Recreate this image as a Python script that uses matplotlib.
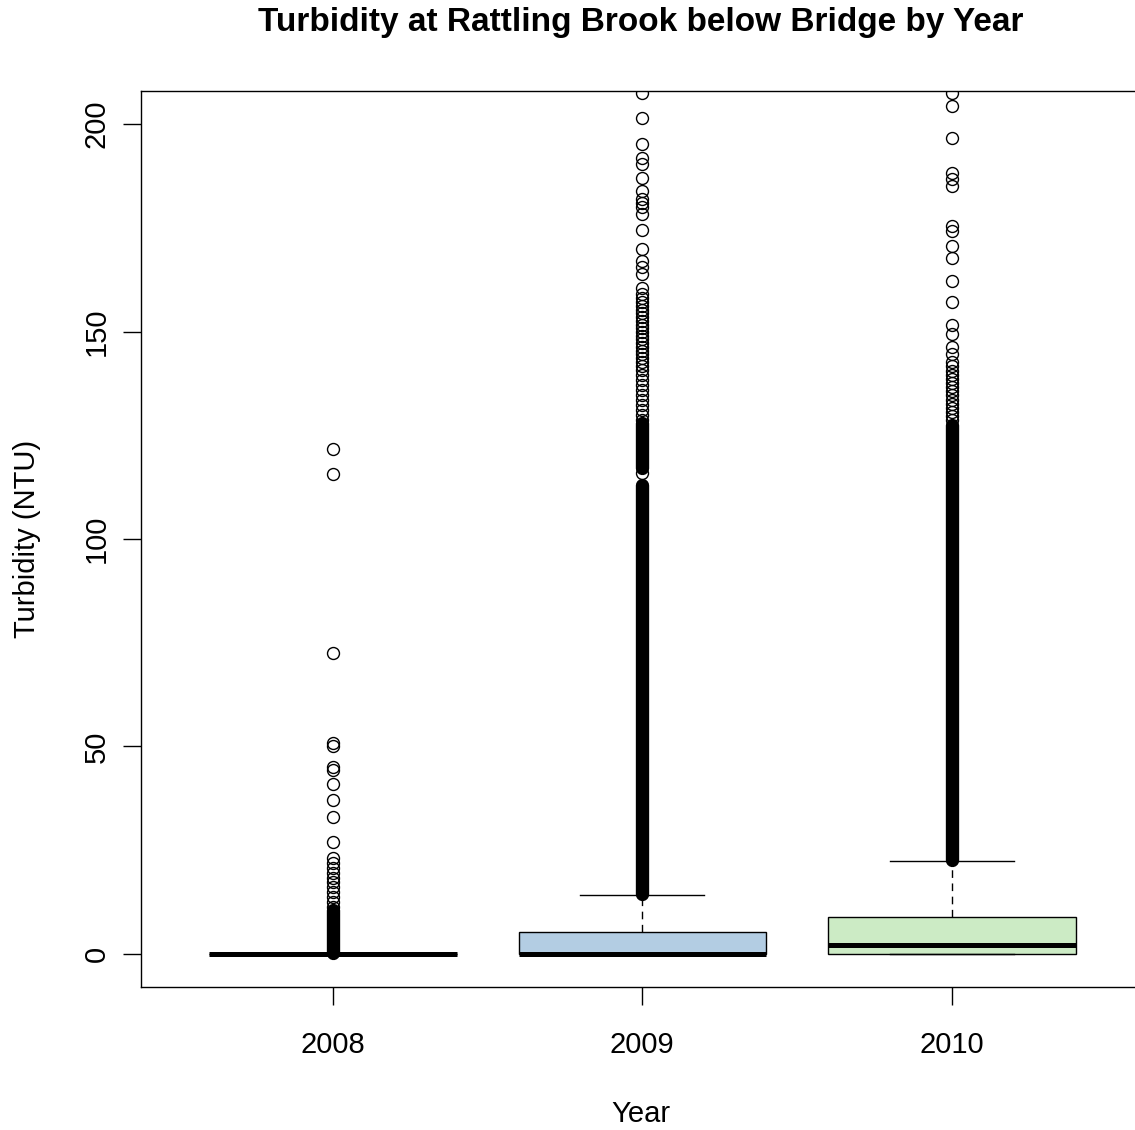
import numpy as np
import matplotlib.pyplot as plt

plt.rcParams['font.family'] = ['Liberation Sans', 'DejaVu Sans']

years = ['2008', '2009', '2010']
q1 = [0.0, 0.0, 0.0]
med = [0.0, 0.0, 2.2]
q3 = [0.0, 5.3, 8.8]
whis_lo = [0.0, 0.0, 0.0]
whis_hi = [0.0, 14.2, 22.4]
box_colors = ['#FBB4AE', '#B3CDE3', '#CCEBC5']

# outliers visiveis um a um
out_2008 = [121.8, 115.6, 72.6, 50.8, 50.2, 45.0, 44.2, 41.0, 37.0, 33.0, 27.0,
            23.0, 21.8, 20.6, 19.5, 18.3, 17.2, 16.0, 14.8, 13.6, 12.4, 11.2]
out_2009 = [115.9, 128.8, 130.0, 131.2, 132.4, 133.6, 134.8, 136.0, 137.2, 138.4,
            139.6, 140.8, 141.8, 142.7, 143.6, 144.5, 145.4, 146.3, 147.2, 148.1,
            149.0, 149.9, 150.8, 151.7, 152.6, 153.5, 154.4, 155.3, 156.2, 157.1,
            158.0, 159.0, 160.5, 164.0, 165.5, 167.0, 169.8, 174.6, 178.3, 180.0,
            181.0, 182.0, 183.8, 187.0, 190.3, 191.8, 195.3, 201.5, 207.6]
out_2010 = [128.6, 129.6, 130.6, 131.6, 132.6, 133.6, 134.6, 135.6, 136.6, 137.6,
            138.6, 139.6, 140.6, 141.6, 142.6, 144.7, 146.4, 149.3, 151.7, 157.1,
            162.3, 167.8, 170.6, 174.2, 175.4, 185.0, 186.7, 188.3, 196.7, 204.3,
            207.6]

# faixas onde os outliers se sobrepoem num traco preto continuo (inicio, fim)
dense_2008 = [(0.1, 10.5)]
dense_2009 = [(14.5, 113.0), (117.0, 128.0)]
dense_2010 = [(22.6, 127.5)]

outliers = [out_2008, out_2009, out_2010]
dense = [dense_2008, dense_2009, dense_2010]

yticks = [0, 50, 100, 150, 200]

W, H = 1135, 1130
fig = plt.figure(figsize=(W / 100, H / 100), dpi=100)
# eixo direito fica fora da figura, como no original
ax = fig.add_axes([141 / W, 1 - 987 / H, (1143.6 - 141) / W, (987 - 91) / H])

stats = []
for i in range(3):
    stats.append(dict(label=years[i], q1=q1[i], med=med[i], q3=q3[i],
                      whislo=whis_lo[i], whishi=whis_hi[i], fliers=outliers[i]))

pos = [1, 2, 3]
bp = ax.bxp(stats, positions=pos, widths=0.8, capwidths=0.4, patch_artist=True,
            boxprops=dict(linewidth=1.0, edgecolor='black'),
            medianprops=dict(color='black', linewidth=3.6, solid_capstyle='butt'),
            whiskerprops=dict(color='black', linewidth=1.0, linestyle=(0, (5.5, 4))),
            capprops=dict(color='black', linewidth=1.0),
            flierprops=dict(marker='o', markerfacecolor='none', markeredgecolor='black',
                            markersize=8.6, markeredgewidth=1.0, linestyle='none'))
for patch, c in zip(bp['boxes'], box_colors):
    patch.set_facecolor(c)

for i, runs in enumerate(dense):
    for lo, hi in runs:
        ax.plot([pos[i], pos[i]], [lo, hi], color='black', linewidth=9.6,
                solid_capstyle='round', zorder=3)

ax.set_xlim(0.38, 3.62)
ax.set_ylim(-8, 208)
ax.set_yticks(yticks)
ax.set_yticklabels([str(t) for t in yticks], rotation=90, va='center')
ax.set_xticks(pos)
ax.set_xticklabels(years)
ax.tick_params(axis='both', length=13, width=1.0, labelsize=21, color='black')
ax.tick_params(axis='y', pad=9)
ax.tick_params(axis='x', pad=19)
for s in ax.spines.values():
    s.set_linewidth(1.0)

fig.text(641 / W, 1 - 22 / H, 'Turbidity at Rattling Brook below Bridge by Year',
         ha='center', va='center', fontsize=24, fontweight='bold')
fig.text(641 / W, 1 - 1114 / H, 'Year', ha='center', va='center', fontsize=21)
fig.text(27 / W, 1 - 539 / H, 'Turbidity (NTU)', ha='center', va='center',
         rotation=90, fontsize=21)

fig.savefig('out.png', dpi=100)
